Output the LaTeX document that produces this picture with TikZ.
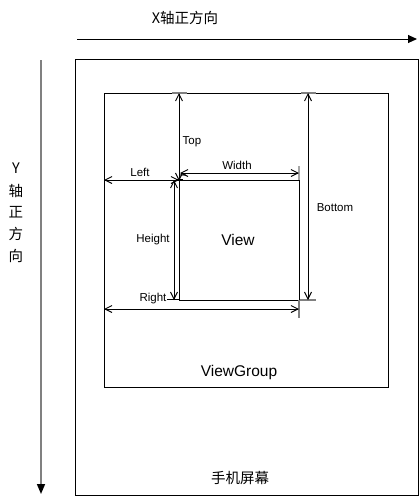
\documentclass[tikz,border=0pt]{standalone}
\usepackage{fontspec}
\setmainfont{Liberation Sans}
\newfontfamily\cjk{Noto Sans CJK SC}
\usetikzlibrary{arrows.meta}
\begin{document}
\begin{tikzpicture}[x=1pt,y=-1pt,
  box/.style={draw=black,line width=1pt},
  dim/.style={draw=black,line width=0.9pt,{Straight Barb[length=7pt,width=7pt]}-{Straight Barb[length=7pt,width=7pt]}},
  tick/.style={draw=gray,line width=1.6pt},
  lbl/.style={font=\fontsize{11.5}{13}\selectfont,inner sep=0pt},
  big/.style={font=\fontsize{15.5}{18}\selectfont,inner sep=0pt},
  cjklbl/.style={font=\cjk\fontsize{14.5}{17}\selectfont,inner sep=0pt},
  axis/.style={line width=1pt,-{Triangle[length=9pt,width=8pt]}}]
\useasboundingbox (0,0) rectangle (419,496);
% axes
\coordinate (xs) at (77,39);
\coordinate (xe) at (417,39);
\draw[axis,black] (xs) -- (xe);
\node[cjklbl] (xlab) at (185,18) {X轴正方向};
\coordinate (ys) at (41,60);
\coordinate (ye) at (41,494);
\draw[axis,draw=gray,line width=1.6pt,{-{Triangle[length=10pt,width=8pt,fill=black,color=black]}}] (ys) -- (ye);
\node[cjklbl,align=center] (ylab) at (16,168) {Y};
\node[cjklbl] (y1) at (16,191) {轴};
\node[cjklbl] (y2) at (16,212) {正};
\node[cjklbl] (y3) at (16,234) {方};
\node[cjklbl] (y4) at (16,256) {向};
% screen
\draw[box] (75,59) rectangle (418,495);
\node[cjklbl] (screen) at (240,478) {手机屏幕};
% viewgroup
\draw[box] (104,93) rectangle (388,387);
\node[big] (vg) at (239,372) {ViewGroup};
% view
\draw[box] (179,180) rectangle (299,300);
\node[big] (view) at (238,240) {View};
% ticks
\draw[tick] (172,93) -- (187,93);
\draw[tick] (301,93) -- (316,93);
\draw[tick] (300,300) -- (316,300);
\draw[tick] (299,300) -- (299,318);
\draw[tick,draw=gray!70] (299,166) -- (299,180);
\draw[tick,draw=black,line width=1pt] (167,299) -- (180,299);
\draw[tick,draw=black,line width=1.5pt] (176,180) -- (183,180);
\draw[tick,draw=gray,line width=1.5pt] (180,175) -- (186,175);
% dimension arrows
\coordinate (t1) at (179,93);  \coordinate (t2) at (179,181);
\coordinate (b1) at (308,93);  \coordinate (b2) at (308,300);
\coordinate (w1) at (180,173); \coordinate (w2) at (299,173);
\coordinate (l1) at (104,180); \coordinate (l2) at (179,180);
\coordinate (h1) at (174,180); \coordinate (h2) at (174,300);
\coordinate (r1) at (104,309); \coordinate (r2) at (299,309);
\draw[dim] (t1) -- (t2);
\draw[dim] (b1) -- (b2);
\draw[dim] (w1) -- (w2);
\draw[dim] (l1) -- (l2);
\draw[dim] (h1) -- (h2);
\draw[dim] (r1) -- (r2);
\node[lbl] (top) at (192,142) {Top};
\node[lbl] (bottom) at (335,208) {Bottom};
\node[lbl] (width) at (237,165) {Width};
\node[lbl] (left) at (140,172) {Left};
\node[lbl] (height) at (153,240) {Height};
\node[lbl] (right) at (153,299) {Right};
\end{tikzpicture}
\end{document}
